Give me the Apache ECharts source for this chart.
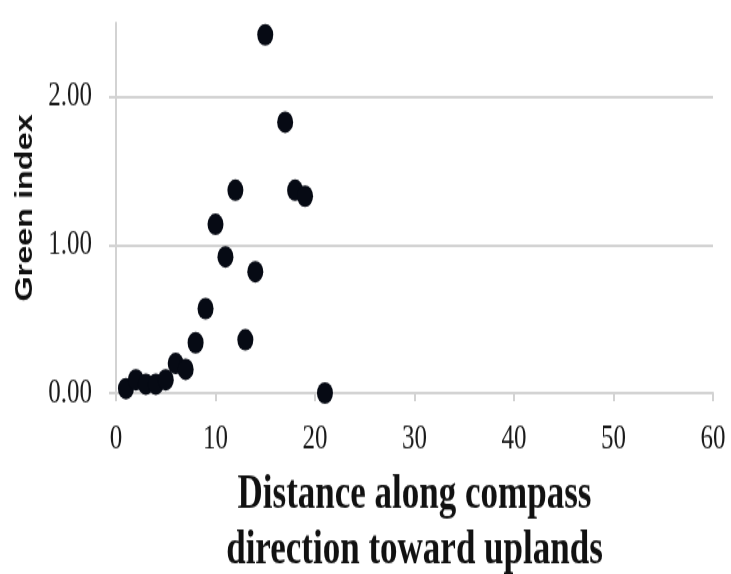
<!DOCTYPE html>
<html>
<head>
<meta charset="utf-8">
<script src="https://cdn.jsdelivr.net/npm/echarts@6/dist/echarts.min.js"></script>
<style>
  html, body { margin: 0; padding: 0; background: #fff; overflow: hidden; }
  #wrap { width: 731px; height: 574px; overflow: hidden; }
  /* chart is drawn on a shorter canvas and stretched vertically */
  #chart { width: 731px; height: 425px; transform: scale(1, 1.35059); transform-origin: 0 0; }
</style>
</head>
<body>
<div id="wrap"><div id="chart"></div></div>
<script>
// Distance (steps along the compass direction) and the green index measured there
const distance = [1, 2, 3, 4, 5, 6, 7, 8, 9, 10, 11, 12, 13, 14, 15, 17, 18, 19, 21];
const greenIndex = [0.03, 0.09, 0.06, 0.06, 0.09, 0.20, 0.16, 0.34, 0.57, 1.14, 0.92, 1.37, 0.36, 0.82, 2.42, 1.83, 1.37, 1.33, 0.00];

// Axis tick values
const xTicks = [0, 10, 20, 30, 40, 50, 60];
const yTicks = [0, 1, 2];

const axisGray = '#d3d3d3';
const points = distance.map((d, i) => [d, greenIndex[i]]);

const chart = echarts.init(document.getElementById('chart'));
chart.setOption({
  animation: false,
  backgroundColor: '#fff',
  grid: { left: 116, right: 18, top: 17, bottom: 134, containLabel: false, outerBoundsMode: 'none' },
  xAxis: {
    type: 'value',
    min: xTicks[0],
    max: xTicks[xTicks.length - 1],
    interval: xTicks[1] - xTicks[0],
    axisLine: { show: true, onZero: false, lineStyle: { color: axisGray, width: 2 } },
    axisTick: { show: true, length: 6, lineStyle: { color: axisGray, width: 2 } },
    splitLine: { show: false },
    axisLabel: {
      margin: 22,
      fontFamily: 'Liberation Serif',
      fontSize: 25,
      color: '#1a1a1a'
    },
    name: 'Distance along compass\ndirection toward uplands',
    nameLocation: 'middle',
    nameGap: 55,
    nameTextStyle: {
      fontFamily: 'Liberation Serif',
      fontWeight: 'bold',
      fontSize: 35,
      lineHeight: 41,
      color: '#111'
    }
  },
  yAxis: {
    type: 'value',
    min: 0,
    max: 2.5,
    interval: 1,
    axisLine: { show: true, lineStyle: { color: axisGray, width: 2 } },
    axisTick: { show: true, length: 7, customValues: yTicks, lineStyle: { color: axisGray, width: 2 } },
    splitLine: { show: true, showMinLine: false, lineStyle: { color: axisGray, width: 2 } },
    axisLabel: {
      customValues: yTicks,
      margin: 24,
      fontFamily: 'Liberation Serif',
      fontSize: 25,
      color: '#1a1a1a',
      formatter: v => v.toFixed(2)
    },
    name: 'Green index',
    nameLocation: 'middle',
    nameGap: 72,
    nameTextStyle: {
      fontFamily: 'Liberation Sans',
      fontWeight: 'bold',
      fontSize: 24,
      color: '#111'
    }
  },
  series: [{
    type: 'scatter',
    data: points,
    symbol: 'circle',
    symbolSize: 16,
    itemStyle: { color: '#060a14', opacity: 1 }
  }]
});
</script>
</body>
</html>
